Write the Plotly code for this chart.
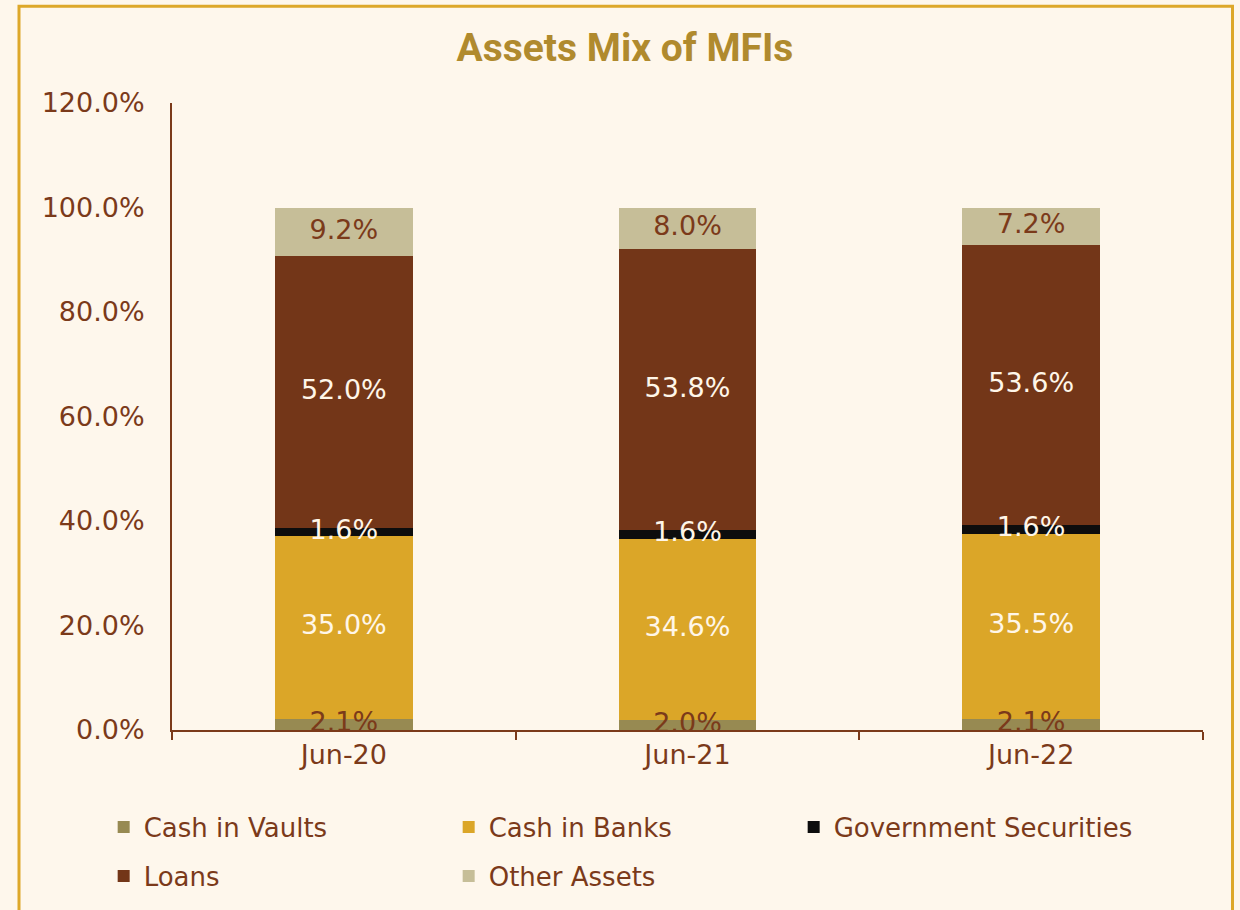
import plotly.graph_objects as go

categories = ["Jun-20", "Jun-21", "Jun-22"]
cash_in_vaults = [2.1, 2.0, 2.1]
cash_in_banks = [35.0, 34.6, 35.5]
gov_securities = [1.6, 1.6, 1.6]
loans = [52.0, 53.8, 53.6]
other_assets = [9.2, 8.0, 7.2]
y_ticks = [0, 20, 40, 60, 80, 100, 120]

BG = "#FEF7EC"
BROWN = "#7B3A1A"
WHITE = "#FFF6E8"
FONT = "DejaVu Sans"

series = [
    ("Cash in Vaults", cash_in_vaults, "#978A52", BROWN, "legend"),
    ("Cash in Banks", cash_in_banks, "#DBA628", WHITE, "legend"),
    ("Government Securities", gov_securities, "#0D0D0D", WHITE, "legend"),
    ("Loans", loans, "#733618", WHITE, "legend2"),
    ("Other Assets", other_assets, "#C6BE98", BROWN, "legend2"),
]

fig = go.Figure()
for name, vals, color, tcolor, leg in series:
    fig.add_trace(go.Bar(
        x=categories, y=vals, name=name,
        marker=dict(color=color, line=dict(width=0)),
        legend=leg, hoverinfo="x+y+name",
    ))

# value labels drawn on top of all bars, centred in each segment
base = [0.0] * len(categories)
for name, vals, color, tcolor, leg in series:
    centers = [b + v / 2 for b, v in zip(base, vals)]
    fig.add_trace(go.Scatter(
        x=categories, y=centers, mode="text",
        text=[f"{v:.1f}%" for v in vals],
        textposition="middle center",
        textfont=dict(family=FONT, size=27, color=tcolor),
        showlegend=False, hoverinfo="skip", cliponaxis=False,
    ))
    base = [b + v for b, v in zip(base, vals)]

legend_common = dict(
    orientation="h", xanchor="left", yanchor="middle",
    entrywidth=300, entrywidthmode="pixels",
    font=dict(family=FONT, size=26, color=BROWN),
    bgcolor="rgba(0,0,0,0)", traceorder="normal",
)

LX = -0.075 + 9 / 1031
fig.update_layout(
    width=1240, height=910,
    barmode="stack", bargap=0.6,
    paper_bgcolor=BG, plot_bgcolor=BG,
    margin=dict(l=172, r=37, t=103, b=179),
    title=dict(text="<b>Assets Mix of MFIs</b>", x=0.504, xanchor="center",
               y=1 - 47 / 910, yanchor="middle",
               font=dict(family="Roboto", size=39, color="#B08A2E")),
    legend=dict(x=LX, y=(731 - 827) / 628, **legend_common),
    legend2=dict(x=LX, y=(731 - 876) / 628, **legend_common),
    showlegend=True,
    xaxis=dict(showline=True, linecolor=BROWN, linewidth=2,
               ticks="outside", tickson="boundaries", ticklen=8, tickcolor=BROWN, tickwidth=2,
               tickfont=dict(family=FONT, size=27, color=BROWN),
               showgrid=False, zeroline=False),
    yaxis=dict(range=[0, 120], tickvals=y_ticks, ticktext=[f"{v:.1f}%" for v in y_ticks],
               showline=True, linecolor=BROWN, linewidth=2, ticks="",
               ticklabelstandoff=20,
               tickfont=dict(family=FONT, size=27, color=BROWN),
               showgrid=False, zeroline=False),
)

# outer frame (left, top, right edges)
fx0 = (19 - 172) / 1031
fx1 = (1232.5 - 172) / 1031
fy1 = (731 - 6) / 628
fig.add_shape(type="path", xref="paper", yref="paper",
              path=f"M {fx0},-0.5 L {fx0},{fy1} L {fx1},{fy1} L {fx1},-0.5",
              line=dict(color="#DDA82A", width=3), layer="below")

fig.write_html("out.html", config={"displayModeBar": False},
               post_script="document.body.style.margin='0px';document.body.style.background='" + BG + "';")
